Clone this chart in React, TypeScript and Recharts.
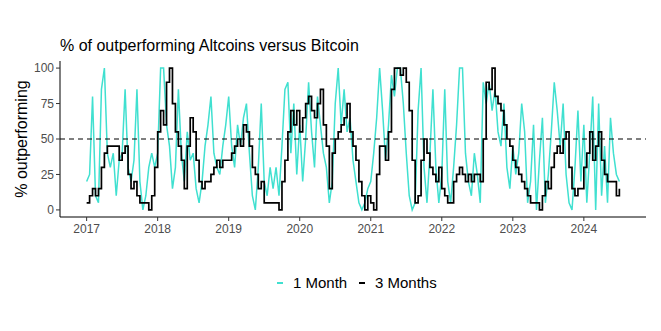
import React from 'react';
import { LineChart, Line, XAxis, YAxis, ReferenceLine } from 'recharts';

// half-month samples, Jan 2017 .. Jul 2024
const startYear = 2017;
const samplesPerYear = 24;

const oneMonth = [
  20, 25, 80, 10, 5, 85, 100, 40, 30, 40, 10, 35, 40, 85, 30, 20, 35, 85, 20, 0, 10, 30, 40, 30,
  40, 100, 100, 60, 45, 15, 30, 85, 40, 20, 55, 35, 40, 15, 5, 20, 45, 60, 80, 40, 30, 25, 45, 60,
  80, 45, 30, 60, 45, 65, 75, 40, 10, 0, 30, 75, 20, 10, 30, 15, 30, 10, 45, 85, 90, 40, 75, 25,
  60, 20, 50, 90, 55, 30, 80, 60, 40, 30, 5, 20, 75, 100, 60, 85, 55, 65, 35, 20, 5, 0, 5, 15,
  20, 40, 65, 100, 70, 35, 60, 95, 80, 100, 100, 75, 40, 10, 0, 5, 70, 100, 30, 5, 40, 85, 30, 5,
  25, 85, 20, 5, 30, 60, 100, 100, 40, 20, 10, 40, 25, 5, 90, 75, 90, 70, 85, 55, 45, 75, 30, 15,
  45, 25, 40, 75, 55, 5, 20, 60, 0, 35, 65, 5, 25, 55, 90, 70, 45, 75, 25, 5, 0, 30, 70, 20,
  60, 5, 40, 80, 0, 75, 10, 45, 5, 65, 40, 25, 20,
];

const threeMonths = [
  5, 10, 15, 10, 15, 30, 40, 45, 45, 45, 45, 35, 40, 45, 25, 15, 20, 10, 5, 5, 5, 0, 10, 30,
  55, 70, 60, 90, 100, 75, 55, 45, 35, 15, 45, 65, 55, 35, 20, 15, 20, 20, 25, 30, 35, 30, 35, 35,
  35, 40, 45, 50, 45, 60, 55, 45, 30, 25, 15, 20, 5, 5, 5, 5, 5, 0, 20, 35, 55, 70, 60, 70,
  55, 65, 75, 80, 70, 65, 75, 85, 60, 45, 15, 40, 50, 55, 60, 65, 75, 55, 45, 35, 20, 10, 0, 10,
  5, 0, 25, 45, 45, 35, 55, 85, 100, 100, 95, 100, 90, 70, 35, 5, 10, 35, 50, 40, 30, 25, 20, 30,
  15, 10, 5, 5, 20, 25, 30, 25, 20, 25, 20, 25, 25, 20, 50, 90, 85, 100, 80, 75, 70, 60, 50, 45,
  35, 30, 25, 20, 15, 10, 5, 5, 5, 0, 10, 20, 15, 30, 40, 45, 40, 50, 55, 30, 15, 10, 15, 15,
  30, 40, 55, 35, 45, 55, 35, 25, 20, 20, 20, 10, 15,
];

const yearTicks = [2017, 2018, 2019, 2020, 2021, 2022, 2023, 2024];
const pctTicks = [0, 25, 50, 75, 100];

const data = oneMonth.map((v, i) => ({
  t: startYear + i / samplesPerYear,
  oneMonth: v,
  threeMonths: threeMonths[i],
}));

const font = '"Liberation Sans", Arial, sans-serif';
const turquoise = '#40E0D0';

export default function App() {
  return (
    <div
      style={{
        position: 'absolute',
        left: 0,
        top: 0,
        width: 661,
        height: 331,
        background: '#fff',
        fontFamily: font,
      }}
    >
      <div style={{ position: 'absolute', left: 60, top: 37, fontSize: 16, lineHeight: '18px', color: '#000', whiteSpace: 'nowrap' }}>
        % of outperforming Altcoins versus Bitcoin
      </div>
      <div
        style={{
          position: 'absolute',
          left: 22 - 100,
          top: 139 - 9,
          width: 200,
          height: 18,
          lineHeight: '18px',
          textAlign: 'center',
          fontSize: 16,
          color: '#000',
          transform: 'rotate(-90deg)',
        }}
      >
        % outperforming
      </div>

      <LineChart width={661} height={331} data={data} margin={{ top: 61, right: 15, bottom: 84, left: 30 }}>
        <XAxis
          dataKey="t"
          type="number"
          domain={[2016.625, 2024.875]}
          ticks={yearTicks}
          tickFormatter={(v) => String(Math.round(v))}
          height={30}
          tickSize={4}
          tickMargin={3}
          stroke="#000"
          tickLine={{ stroke: '#333' }}
          tick={{ fill: '#4d4d4d', fontSize: 12 }}
        />
        <YAxis
          type="number"
          domain={[-5, 105]}
          ticks={pctTicks}
          width={30}
          tickSize={4}
          tickMargin={2}
          stroke="#000"
          tickLine={{ stroke: '#333' }}
          tick={{ fill: '#4d4d4d', fontSize: 12 }}
        />
        <Line
          dataKey="oneMonth"
          type="linear"
          stroke={turquoise}
          strokeWidth={1.5}
          dot={false}
          isAnimationActive={false}
        />
        <Line
          dataKey="threeMonths"
          type="stepAfter"
          stroke="#000"
          strokeWidth={1.7}
          dot={false}
          isAnimationActive={false}
        />
        <ReferenceLine y={50} stroke="#000" strokeWidth={1.1} strokeDasharray="5 4" />
      </LineChart>

      <div style={{ position: 'absolute', left: 277, top: 282, width: 6, height: 2, background: turquoise }} />
      <div style={{ position: 'absolute', left: 293, top: 274, fontSize: 15, lineHeight: '18px', whiteSpace: 'nowrap' }}>
        1 Month
      </div>
      <div style={{ position: 'absolute', left: 359, top: 282, width: 6, height: 2, background: '#000' }} />
      <div style={{ position: 'absolute', left: 375, top: 274, fontSize: 15, lineHeight: '18px', whiteSpace: 'nowrap' }}>
        3 Months
      </div>
    </div>
  );
}
